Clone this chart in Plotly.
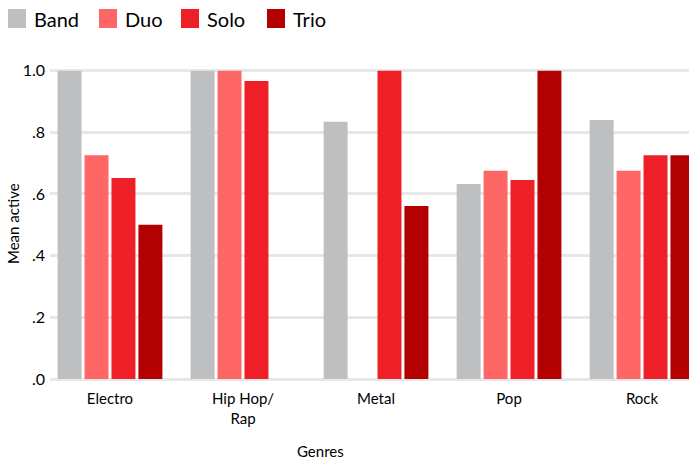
import plotly.graph_objects as go

genres = ["Electro", "Hip Hop/<br>Rap", "Metal", "Pop", "Rock"]
series_names = ["Band", "Duo", "Solo", "Trio"]
band = [1.0, 1.0, 0.834, 0.632, 0.840]
duo = [0.726, 1.0, None, 0.675, 0.675]
solo = [0.652, 0.966, 1.0, 0.645, 0.726]
trio = [0.50, None, 0.561, 1.0, 0.726]
colors = ["#bebfc1", "#ff6666", "#ee1f27", "#b30000"]
ytick_vals = [0, 0.2, 0.4, 0.6, 0.8, 1.0]
ytick_text = [".0", ".2", ".4", ".6", ".8", "1.0"]

FONT = "Lato"
W, H = 689, 461
ML, MR, MT, MB = 50, 0, 62, 80
PW, PH = W - ML - MR, H - MT - MB


def px_x(px):
    return (px - ML) / PW


def px_y(py):
    return (H - MB - py) / PH


fig = go.Figure()
for name, vals, col in zip(series_names, [band, duo, solo, trio], colors):
    fig.add_trace(go.Bar(name=name, x=genres, y=vals, marker_color=col,
                         marker_line_width=0, showlegend=False))

# legend drawn as squares + labels across the top
legend_sq_x = [8, 99, 181, 267]
shapes = []
annotations = []
for name, col, sx in zip(series_names, colors, legend_sq_x):
    shapes.append(dict(type="rect", xref="paper", yref="paper",
                       x0=px_x(sx), x1=px_x(sx + 18), y0=px_y(28), y1=px_y(9),
                       fillcolor=col, line_width=0))
    annotations.append(dict(text=name, xref="paper", yref="paper",
                            x=px_x(sx + 24), y=px_y(19), xanchor="left",
                            yanchor="middle", showarrow=False,
                            font=dict(family=FONT, size=20, color="#000")))

annotations.append(dict(text="Genres", xref="paper", yref="paper",
                        x=px_x(320), y=px_y(451), xanchor="center",
                        yanchor="middle", showarrow=False,
                        font=dict(family=FONT, size=15, color="#000")))
annotations.append(dict(text="Mean active", xref="paper", yref="paper",
                        x=px_x(13), y=px_y(224), xanchor="center",
                        yanchor="middle", textangle=-90, showarrow=False,
                        font=dict(family=FONT, size=15, color="#000")))

fig.update_layout(
    width=W, height=H,
    margin=dict(l=ML, r=MR, t=MT, b=MB),
    paper_bgcolor="white", plot_bgcolor="white",
    barmode="group", bargap=0.19, bargroupgap=0.11,
    shapes=shapes, annotations=annotations,
    font=dict(family=FONT, color="#000"),
    xaxis=dict(range=[-0.451, 4.353], showgrid=False, showline=False,
               ticks="", tickfont=dict(family=FONT, size=15, color="#000"),
               ticklabelstandoff=7, fixedrange=True),
    yaxis=dict(range=[-0.0065, 1.028], tickvals=ytick_vals, ticktext=ytick_text,
               showgrid=True, gridcolor="#e6e8e8", gridwidth=2.5,
               zeroline=False, showline=False, ticks="",
               tickfont=dict(family=FONT, size=16, color="#000"),
               ticklabelstandoff=4, fixedrange=True),
)

fig.write_html("out.html")
